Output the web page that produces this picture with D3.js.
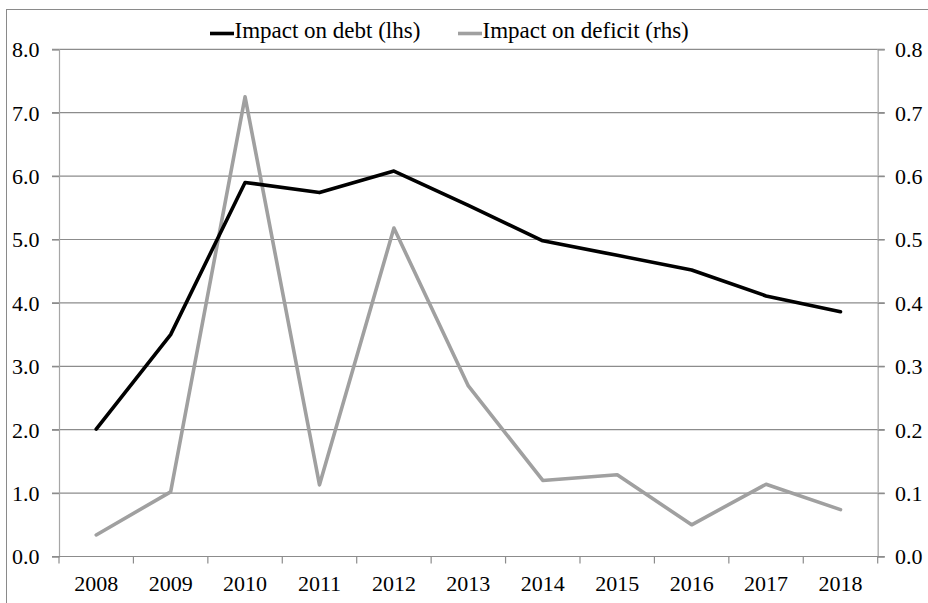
<!DOCTYPE html>
<html><head><meta charset="utf-8">
<script src="https://cdn.jsdelivr.net/npm/d3@7"></script>
</head><body style="margin:0;background:#fff"><svg id="c" width="928" height="603" style="display:block"></svg>
<script>
const years = ["2008","2009","2010","2011","2012","2013","2014","2015","2016","2017","2018"];
const debt = [2.01, 3.5, 5.9, 5.74, 6.08, 5.54, 4.98, 4.75, 4.52, 4.11, 3.86];
const deficit = [0.034, 0.102, 0.725, 0.113, 0.518, 0.269, 0.12, 0.129, 0.05, 0.114, 0.074];
const leftTicks = [0,1,2,3,4,5,6,7,8];
const rightTicks = [0,0.1,0.2,0.3,0.4,0.5,0.6,0.7,0.8];
const seriesNames = ["Impact on debt (lhs)", "Impact on deficit (rhs)"];

const FONT = '"Liberation Serif"';
const svg = d3.select("#c");
const L = 59, R = 877.7, T = 49.3, B = 556.5;
svg.append("rect").attr("x",6.5).attr("y",9.5).attr("width",1000).attr("height",1000)
  .attr("fill","none").attr("stroke","#8a8a8a").attr("stroke-width",1);

const x = d3.scaleBand().domain(years).range([L,R]).paddingInner(0).paddingOuter(0);
const yL = d3.scaleLinear().domain([0,8]).range([B,T]);
const yR = d3.scaleLinear().domain([0,0.8]).range([B,T]);

svg.append("g").selectAll("line").data(leftTicks.filter(d=>d>0)).join("line")
  .attr("x1",L-7).attr("x2",R+7).attr("y1",d=>yL(d)).attr("y2",d=>yL(d))
  .attr("stroke","#8c8c8c").attr("stroke-width",1.2);

function styleText(sel, fs){ sel.attr("font-size",fs).style("font-family",FONT).style("font-size",fs+"px").attr("fill","#000"); }

const gl = svg.append("g").attr("transform",`translate(${L},0)`)
  .call(d3.axisLeft(yL).tickValues(leftTicks).tickFormat(d3.format(".1f")).tickSize(7).tickPadding(12.5));
gl.select(".domain").attr("stroke","#a6a6a6").attr("stroke-width",1.2);
gl.selectAll(".tick line").attr("stroke","#8c8c8c").attr("stroke-width",1.2);
styleText(gl.selectAll("text").attr("dy","0.34em"), 22);

const gr = svg.append("g").attr("transform",`translate(${R},0)`)
  .call(d3.axisRight(yR).tickValues(rightTicks).tickFormat(d3.format(".1f")).tickSize(7).tickPadding(10.3));
gr.select(".domain").attr("stroke","#b3b3b3").attr("stroke-width",1.5);
gr.selectAll(".tick line").attr("stroke","#8c8c8c").attr("stroke-width",1.2);
styleText(gr.selectAll("text").attr("dy","0.34em"), 22);

const xb = svg.append("g").attr("transform",`translate(0,${B})`)
  .call(d3.axisBottom(x).tickSize(0).tickPadding(18.5));
xb.select(".domain").attr("d",`M${L-7},0H${R+7}`).attr("stroke","#8c8c8c").attr("stroke-width",1.2);
styleText(xb.selectAll("text"), 22);
const bounds = years.map(y=>x(y)).concat([R]);
svg.append("g").selectAll("line").data(bounds).join("line")
  .attr("x1",d=>d).attr("x2",d=>d).attr("y1",B).attr("y2",B+7)
  .attr("stroke","#8c8c8c").attr("stroke-width",1.2);

const cx = d => x(d) + x.bandwidth()/2;
svg.append("path").datum(deficit)
  .attr("d", d3.line().x((d,i)=>cx(years[i])).y(d=>yR(d)))
  .attr("fill","none").attr("stroke","#a0a0a0").attr("stroke-width",3.6).attr("stroke-linejoin","round").attr("stroke-linecap","round");
svg.append("path").datum(debt)
  .attr("d", d3.line().x((d,i)=>cx(years[i])).y(d=>yL(d)))
  .attr("fill","none").attr("stroke","#000").attr("stroke-width",3.6).attr("stroke-linejoin","round").attr("stroke-linecap","round");

const leg = svg.append("g");
const items = [{n:seriesNames[0],c:"#000",x:210},{n:seriesNames[1],c:"#a0a0a0",x:458}];
items.forEach(it=>{
  leg.append("line").attr("x1",it.x).attr("x2",it.x+24).attr("y1",33.5).attr("y2",33.5)
    .attr("stroke",it.c).attr("stroke-width",3.6);
  styleText(leg.append("text").attr("x",it.x+24.5).attr("y",37.5).text(it.n), 23);
});
</script></body></html>
